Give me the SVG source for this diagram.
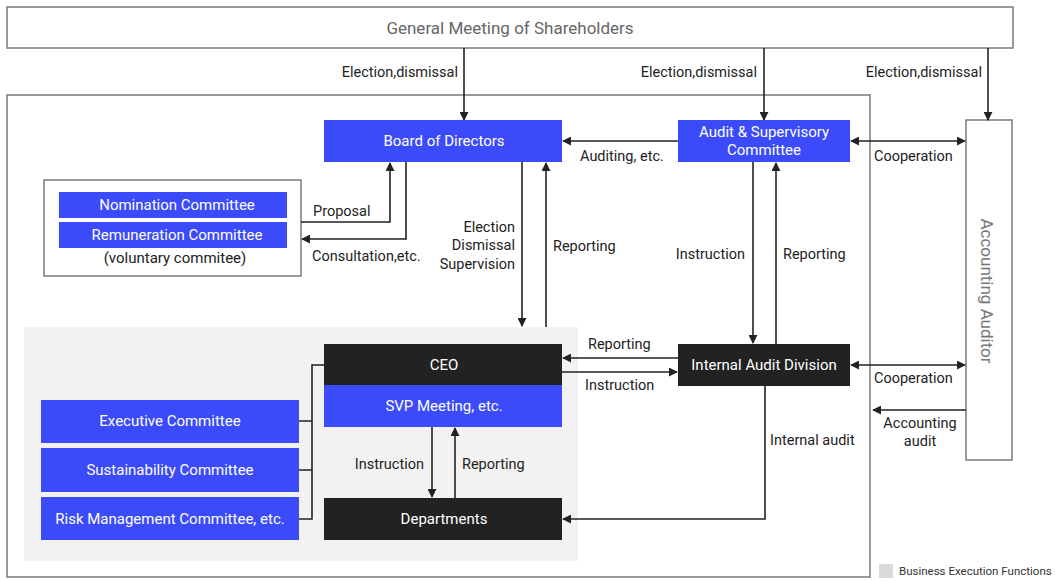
<svg xmlns="http://www.w3.org/2000/svg" width="1058" height="581" viewBox="0 0 1058 581">
<defs>
<marker id="ah" viewBox="0 0 10 10" refX="9" refY="5" markerWidth="9" markerHeight="9" markerUnits="userSpaceOnUse" orient="auto-start-reverse"><path d="M0,0 L10,5 L0,10 z" fill="#222"/></marker>
<style>
text{font-family:Roboto,"Liberation Sans",sans-serif;}
.frame{fill:#fff;stroke:#7a7a7a;stroke-width:1.5;}
.blue{fill:#3c4bfa;}
.dark{fill:#222;}
.wt{fill:#fff;font-size:15px;text-anchor:middle;dominant-baseline:central;}
.lb{fill:#222;font-size:14.5px;}
.c{fill:none;stroke:#222;stroke-width:1.6;}
.a{marker-end:url(#ah);}
.b{marker-start:url(#ah);marker-end:url(#ah);}
</style>
</defs>
<g id="gms"><rect class="frame" x="7" y="7" width="1006" height="41"/><text x="510" y="28" font-size="17" fill="#666" text-anchor="middle" dominant-baseline="central">General Meeting of Shareholders</text></g>
<g id="company"><rect class="frame" x="7" y="95" width="863" height="482"/></g>
<g id="business-execution"><rect x="24" y="327" width="554" height="234" fill="#f2f2f2"/></g>
<g id="accounting-auditor"><rect class="frame" x="966" y="120" width="46" height="340"/><text transform="translate(987,291) rotate(90)" font-size="17" fill="#777" text-anchor="middle" dominant-baseline="central">Accounting Auditor</text></g>
<g id="board"><rect class="blue" x="324" y="120" width="238" height="42"/><text class="wt" x="444" y="141">Board of Directors</text></g>
<g id="audit-committee"><rect class="blue" x="678" y="120" width="172" height="42"/><text class="wt" x="764" y="132">Audit &amp; Supervisory</text><text class="wt" x="764" y="150">Committee</text></g>
<g id="voluntary"><rect class="frame" x="44" y="180" width="257" height="96"/><rect class="blue" x="59" y="192" width="228" height="26"/><text class="wt" x="177" y="205">Nomination Committee</text><rect class="blue" x="59" y="222" width="228" height="26"/><text class="wt" x="177" y="235">Remuneration Committee</text><text x="175" y="258" font-size="15" fill="#222" text-anchor="middle" dominant-baseline="central">(voluntary commitee)</text></g>
<g id="ceo"><rect class="dark" x="324" y="344" width="238" height="41"/><text class="wt" x="444" y="365">CEO</text></g>
<g id="svp"><rect class="blue" x="324" y="385" width="238" height="42"/><text class="wt" x="444" y="406">SVP Meeting, etc.</text></g>
<g id="departments"><rect class="dark" x="324" y="498" width="238" height="42"/><text class="wt" x="444" y="519">Departments</text></g>
<g id="iad"><rect class="dark" x="678" y="344" width="172" height="42"/><text class="wt" x="764" y="365">Internal Audit Division</text></g>
<g id="executive"><rect class="blue" x="41" y="400" width="258" height="43"/><text class="wt" x="170" y="421">Executive Committee</text></g>
<g id="sustainability"><rect class="blue" x="41" y="448" width="258" height="44"/><text class="wt" x="170" y="470">Sustainability Committee</text></g>
<g id="risk"><rect class="blue" x="41" y="497" width="258" height="43"/><text class="wt" x="170" y="519">Risk Management Committee, etc.</text></g>
<g id="connectors">
<path class="c a" d="M464,48 V120"/>
<path class="c a" d="M764,48 V120"/>
<path class="c a" d="M988,48 V120"/>
<path class="c a" d="M678,141 H563"/>
<path class="c b" d="M851,141 H965"/>
<path class="c a" d="M301,222 H390 V163"/>
<path class="c a" d="M406,162 V239 H302"/>
<path class="c a" d="M522,162 V326"/>
<path class="c a" d="M546,327 V163"/>
<path class="c a" d="M753,162 V343"/>
<path class="c a" d="M776,344 V163"/>
<path class="c a" d="M678,358 H563"/>
<path class="c a" d="M562,372 H677"/>
<path class="c b" d="M851,365 H965"/>
<path class="c a" d="M966,410 H873"/>
<path class="c a" d="M765,386 V519 H563"/>
<path class="c a" d="M432,427 V497"/>
<path class="c a" d="M455,498 V428"/>
<path class="c" d="M324,365 H312 V519 H299 M299,421 H312 M299,470 H312"/>
</g>
<g id="labels">
<text class="lb" x="458" y="77" text-anchor="end">Election,dismissal</text>
<text class="lb" x="757" y="77" text-anchor="end">Election,dismissal</text>
<text class="lb" x="982" y="77" text-anchor="end">Election,dismissal</text>
<text class="lb" x="580" y="161">Auditing, etc.</text>
<text class="lb" x="874" y="161">Cooperation</text>
<text class="lb" x="313" y="216">Proposal</text>
<text class="lb" x="312" y="261">Consultation,etc.</text>
<text class="lb" x="515" y="232" text-anchor="end">Election</text>
<text class="lb" x="515" y="250" text-anchor="end">Dismissal</text>
<text class="lb" x="515" y="269" text-anchor="end">Supervision</text>
<text class="lb" x="553" y="251">Reporting</text>
<text class="lb" x="745" y="259" text-anchor="end">Instruction</text>
<text class="lb" x="783" y="259">Reporting</text>
<text class="lb" x="588" y="349">Reporting</text>
<text class="lb" x="585" y="390">Instruction</text>
<text class="lb" x="874" y="383">Cooperation</text>
<text class="lb" x="920" y="428" text-anchor="middle">Accounting</text>
<text class="lb" x="920" y="446" text-anchor="middle">audit</text>
<text class="lb" x="770" y="445">Internal audit</text>
<text class="lb" x="424" y="469" text-anchor="end">Instruction</text>
<text class="lb" x="462" y="469">Reporting</text>
</g>
<g id="legend"><rect x="879" y="564" width="14" height="14" fill="#d9d9d9"/><text x="899" y="575" font-size="11.5" fill="#333">Business Execution Functions</text></g>
</svg>
